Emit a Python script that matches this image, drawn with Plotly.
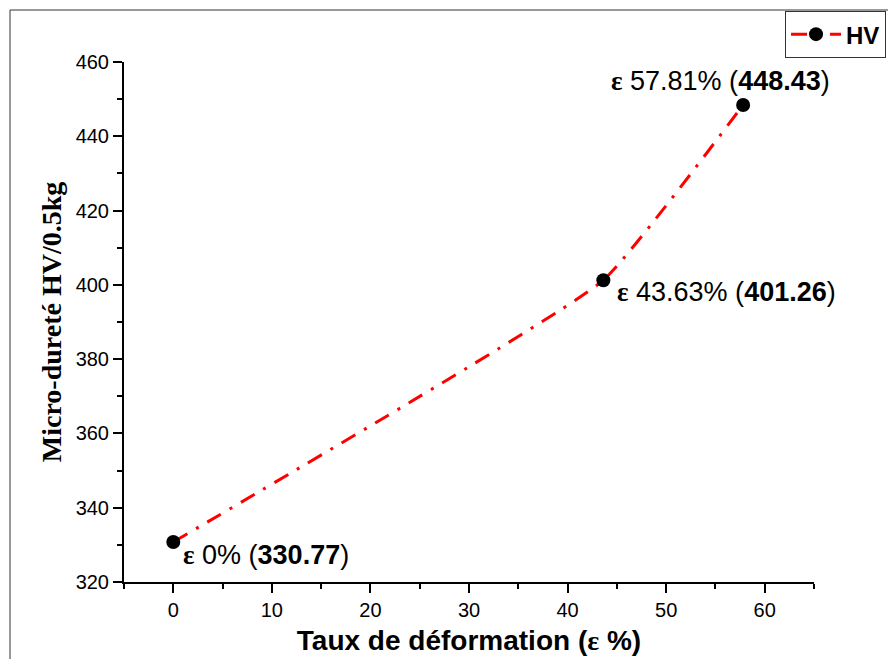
import plotly.graph_objects as go

# Micro-hardness versus deformation rate
strain = [0, 43.63, 57.81]
hardness = [330.77, 401.26, 448.43]
point_labels = ["0%", "43.63%", "57.81%"]

x_ticks = [0, 10, 20, 30, 40, 50, 60]
y_ticks = [320, 340, 360, 380, 400, 420, 440, 460]

SANS = "Liberation Sans, Arial, sans-serif"
SERIF = "Liberation Serif, Times New Roman, serif"

fig = go.Figure()
fig.add_trace(go.Scatter(
    x=strain, y=hardness, mode="lines+markers", name="<b>HV</b>",
    line=dict(color="#ff0000", width=3, dash="16px,10px,3px,10px",
              shape="spline", smoothing=0.35),
    marker=dict(color="black", size=14, symbol="circle"),
    cliponaxis=False,
))

# label offsets (pixels) for each point
offsets = [(8, -13, "left"), (12, -12, "left"), (-23, 24, "center")]
for xv, yv, lab, (dx, dy, anc) in zip(strain, hardness, point_labels, offsets):
    fig.add_annotation(
        x=xv, y=yv, xref="x", yref="y", showarrow=False,
        text=(f"<span style='font-family:{SERIF}'><b>ε</b></span> {lab} "
              f"(<b>{yv:.2f}</b>)"),
        font=dict(family=SANS, size=27, color="black"),
        xanchor=anc, yanchor="middle", xshift=dx, yshift=dy,
    )

# outer frame around the figure
fig.add_shape(type="rect", xref="paper", yref="paper",
              x0=-0.1652, x1=1.2, y0=-0.2, y1=1.1,
              line=dict(color="#333333", width=1), layer="below")

axis_common = dict(
    showline=True, linecolor="black", linewidth=2, mirror=False,
    ticks="outside", ticklen=9, tickwidth=2, tickcolor="black",
    showgrid=False, zeroline=False,
    tickfont=dict(family=SANS, size=20, color="black"),
)

fig.update_layout(
    width=888, height=659,
    margin=dict(l=124, r=74, t=62, b=77, autoexpand=False),
    plot_bgcolor="white", paper_bgcolor="white",
    xaxis=dict(range=[-5, 65], tickvals=x_ticks,
               minor=dict(dtick=5, ticks="outside", ticklen=5, tickwidth=2,
                          tickcolor="black", showgrid=False),
               title=dict(text=("<b>Taux de déformation</b> "
                                f"<b>(<span style='font-family:{SERIF}'>ε</span> %)</b>"),
                          font=dict(family=SANS, size=28, color="black"),
                          standoff=10),
               **axis_common),
    yaxis=dict(range=[320, 460], tickvals=y_ticks,
               minor=dict(dtick=10, ticks="outside", ticklen=5, tickwidth=2,
                          tickcolor="black", showgrid=False),
               title=dict(text="<b>Micro-dureté HV/0.5kg</b>",
                          font=dict(family=SERIF, size=28, color="black"),
                          standoff=6),
               **axis_common),
    showlegend=True,
    legend=dict(x=0.958, y=1.098, xanchor="left", yanchor="top",
                bordercolor="#333333", borderwidth=1, bgcolor="white",
                font=dict(family=SANS, size=24, color="black"),
                itemwidth=50, tracegroupgap=0),
)

fig.write_html("out.html")
